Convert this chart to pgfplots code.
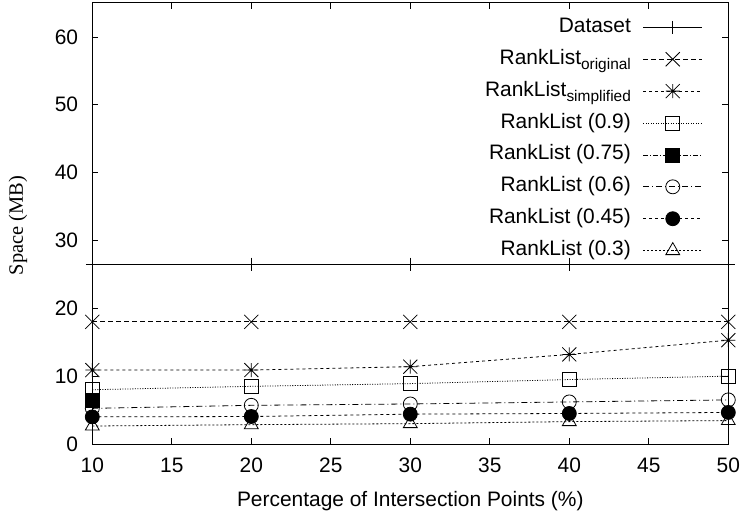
\documentclass[border=0pt]{standalone}
\usepackage{fontspec}
\setmainfont{Liberation Sans}
\newfontfamily\serifF{Liberation Serif}
\usepackage{pgfplots}
\pgfplotsset{compat=1.18}
\pgfdeclareplotmark{gpstar}{%
 \pgfpathmoveto{\pgfqpoint{-\pgfplotmarksize}{-\pgfplotmarksize}}\pgfpathlineto{\pgfqpoint{\pgfplotmarksize}{\pgfplotmarksize}}%
 \pgfpathmoveto{\pgfqpoint{-\pgfplotmarksize}{\pgfplotmarksize}}\pgfpathlineto{\pgfqpoint{\pgfplotmarksize}{-\pgfplotmarksize}}%
 \pgfpathmoveto{\pgfqpoint{0pt}{-\pgfplotmarksize}}\pgfpathlineto{\pgfqpoint{0pt}{\pgfplotmarksize}}%
 \pgfpathmoveto{\pgfqpoint{-\pgfplotmarksize}{0pt}}\pgfpathlineto{\pgfqpoint{\pgfplotmarksize}{0pt}}%
 \pgfusepathqstroke}
\newcommand{\sub}[1]{\raisebox{-5bp}{\fontsize{15.5}{16}\selectfont #1}}
\begin{document}
\begin{tikzpicture}
\begin{axis}[
  name=ax,
  width=636bp, height=441bp, scale only axis,
  xmin=10, xmax=50, ymin=0, ymax=65,
  xtick={10,15,...,50}, ytick={0,10,...,60},
  clip=false,
  axis line style={line width=1bp},
  tick style={line width=0.8bp, black},
  major tick length=6bp,
  tick align=inside,
  /pgf/number format/assume math mode=true,
  tick label style={font=\fontsize{21}{22}\selectfont},
  xticklabel style={anchor=north, inner sep=0pt, yshift=-14bp},
  yticklabel style={anchor=east, inner sep=0pt, xshift=-14bp},
  xlabel={Percentage of Intersection Points (\%)},
  xlabel style={font=\fontsize{21}{22}\selectfont, at={(rel axis cs:0.5,0)}, anchor=base, yshift=-62bp},
  ylabel={\serifF Space (MB)},
  ylabel style={font=\fontsize{20.5}{21}\selectfont, at={(rel axis cs:-0.1168,0.495)}, anchor=center, rotate=0},
  every axis plot/.append style={line width=0.8bp, black, mark size=7bp, mark options={solid, line width=0.8bp}},
  legend image code/.code={\draw[mark repeat=2,mark phase=2,#1] plot coordinates {(0bp,0bp) (29.5bp,0bp) (59bp,0bp)};},
  legend cell align=right,
  legend plot pos=right,
  legend style={at={(rel axis cs:0.960,0.968)}, anchor=north east, draw=none, fill=none, inner sep=0pt,
    row sep=11.9bp, column sep=12bp,
    font=\fontsize{21}{22}\selectfont,
    nodes={inner sep=0pt, text height=15bp, text depth=5bp}},
]
\addplot[solid, mark=+, mark size=6.5bp] coordinates {(10,26.5) (20,26.5) (30,26.5) (40,26.5) (50,26.5)};
\addlegendentry{Dataset}
\addplot[dash pattern=on 5bp off 3bp, mark=x, mark size=10bp] coordinates {(10,18) (20,18) (30,18) (40,18) (50,18)};
\addlegendentry{RankList\sub{original}}
\addplot[dash pattern=on 3bp off 3bp, mark=gpstar] coordinates {(10,10.9) (20,10.9) (30,11.4) (40,13.2) (50,15.3)};
\addlegendentry{RankList\sub{simplified}}
\addplot[dash pattern=on 1bp off 1.5bp, mark=square] coordinates {(10,8.0) (20,8.5) (30,8.9) (40,9.5) (50,10.0)};
\addlegendentry{RankList (0.9)}
\addplot[dash pattern=on 5bp off 2bp on 1bp off 2bp, mark=square*] coordinates {(10,6.4)};
\addlegendentry{RankList (0.75)}
\addplot[dash pattern=on 6bp off 3bp on 1bp off 3bp, mark=o] coordinates {(10,5.25) (20,5.7) (30,5.9) (40,6.2) (50,6.5)};
\addlegendentry{RankList (0.6)}
\addplot[dash pattern=on 3bp off 3bp, mark=*] coordinates {(10,4.0) (20,4.05) (30,4.4) (40,4.5) (50,4.65)};
\addlegendentry{RankList (0.45)}
\addplot[dash pattern=on 2bp off 2bp, mark=triangle, mark size=8bp] coordinates {(10,2.65) (20,2.85) (30,3.0) (40,3.3) (50,3.45)};
\addlegendentry{RankList (0.3)}
\end{axis}
\pgfresetboundingbox
\path[use as bounding box] ([xshift=-92.3bp,yshift=-67bp]ax.south west) rectangle ([xshift=17.7bp,yshift=3bp]ax.north east);
\end{tikzpicture}
\end{document}
